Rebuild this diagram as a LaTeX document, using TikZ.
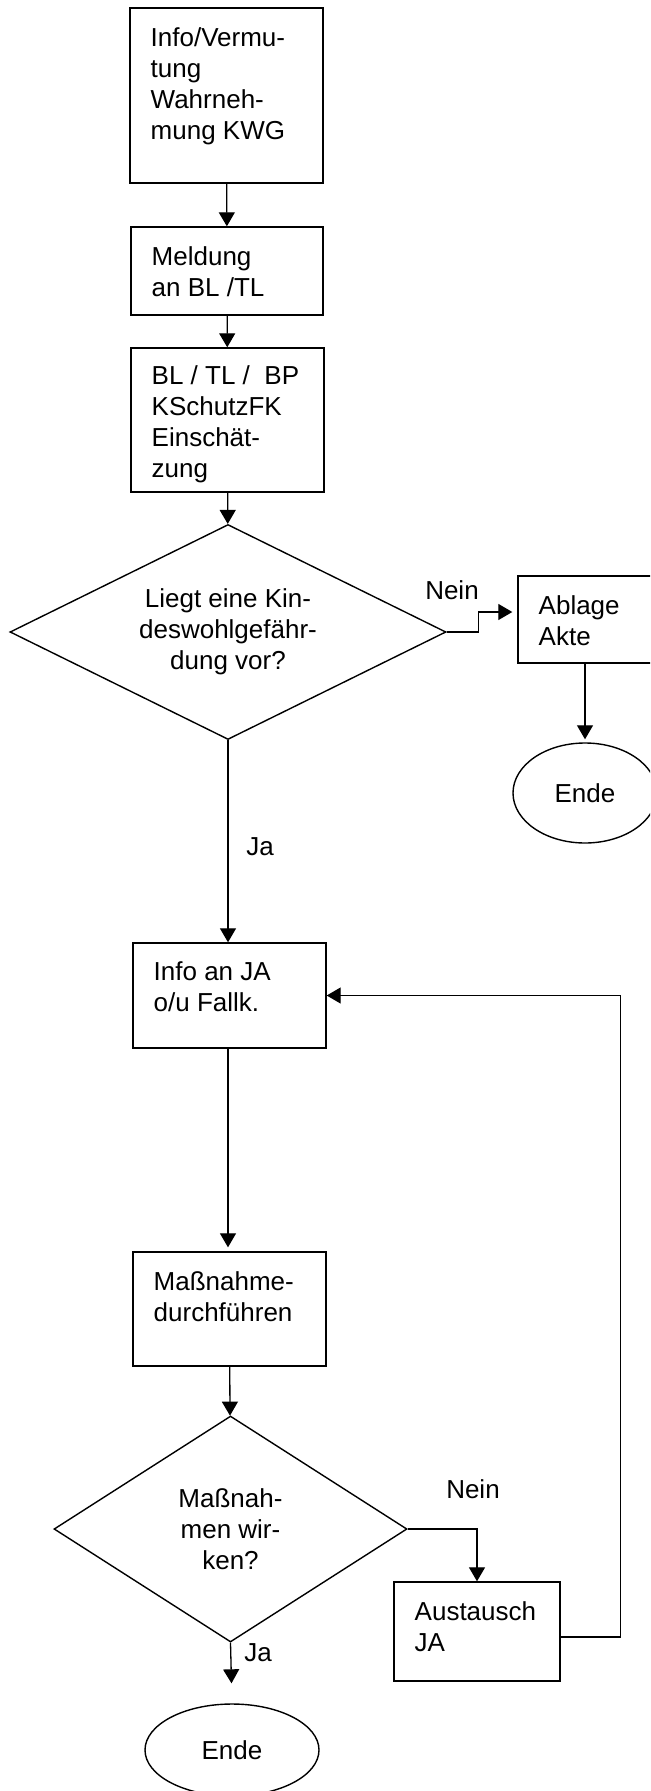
\documentclass[tikz,border=0pt]{standalone}
\usepackage{fontspec}
\setmainfont{Liberation Sans}
\usetikzlibrary{shapes.geometric}
\usetikzlibrary{positioning, arrows.meta}

\begin{document}
\begin{tikzpicture}[x=0.5pt, y=-0.5pt,
        every node/.style={font=\fontsize{13}{15.5}\selectfont},
        arr/.style={-{Triangle[length=7pt, width=8pt]}, line width=0.65pt}]
        % Define styles for shapes
        \tikzstyle{stepbox} = [draw, line width=0.7pt, inner sep=0pt, minimum width=96.5pt]
        \tikzstyle{boxtext} = [inner sep=0pt, align=left, anchor=north west]
        \tikzstyle{decision} = [draw, diamond, line width=0.7pt, inner sep=0pt, align=center]
        \tikzstyle{terminal} = [draw, ellipse, line width=0.7pt, inner sep=0pt]
        \clip (0,0) rectangle (650,1791);
        % Draw shapes
        \node[stepbox, minimum height=87.5pt] (info) at (226.5, 95.5) {};
        \node[boxtext, below right=10pt and 10.5pt of info.north west] (infotext) {Info/Vermu-\\tung\\Wahrneh-\\mung KWG};
        \node[stepbox, minimum width=96pt, minimum height=44pt] (meldung) at (227, 271) {};
        \node[boxtext, below right=10pt and 10.5pt of meldung.north west] (meldungtext) {Meldung\\an BL /TL};
        \node[stepbox, minimum height=72pt] (einsch) at (227.5, 420) {};
        \node[boxtext, below right=9pt and 10.5pt of einsch.north west] (einschtext) {BL / TL /~ BP\\KSchutzFK\\Einschät-\\zung};
        \node[decision, aspect=2, minimum width=218pt, minimum height=107.5pt] (kwg) at (228, 632) {Liegt eine Kin-\\deswohlgefähr-\\dung vor?};
        \node[stepbox, minimum width=81pt, minimum height=43.5pt] (ablage) at (599, 619.5) {};
        \node[boxtext, below right=10pt and 10.5pt of ablage.north west] (ablagetext) {Ablage\\Akte};
        \node[terminal, minimum width=72pt, minimum height=50pt] (ende1) at (585, 793) {Ende};
        \node[stepbox, minimum height=52.5pt] (infoja) at (229.5, 995.5) {};
        \node[boxtext, below right=9.5pt and 10.5pt of infoja.north west] (infojatext) {Info an JA\\o/u Fallk.};
        \node[stepbox, minimum height=57pt] (massn) at (229.5, 1309) {};
        \node[boxtext, below right=10pt and 10.5pt of massn.north west] (massntext) {Maßnahme-\\durchführen};
        \node[decision, aspect=1.56, minimum width=176.5pt, minimum height=113pt] (wirken) at (230.5, 1529) {Maßnah-\\men wir-\\ken?};
        \node[stepbox, minimum width=83pt, minimum height=49.5pt] (austausch) at (477, 1631.5) {};
        \node[boxtext, below right=10pt and 10.5pt of austausch.north west] (austauschtext) {Austausch\\JA};
        \node[terminal, minimum width=87pt, minimum height=46pt] (ende2) at (232, 1750) {Ende};
        % Labels
        \node (nein1) at (452, 590) {Nein};
        \node (ja1) at (260, 847) {Ja};
        \node (nein2) at (473, 1489) {Nein};
        \node (ja2) at (258, 1653) {Ja};

        % Draw arrows
        \draw[arr] (info) -- (meldung);
        \draw[arr] (meldung) -- (einsch);
        \draw[arr] (einsch) -- (kwg);
        \draw[arr, shorten >=2.5pt] (kwg.east) -- ++(32,0) |- ([yshift=3.75pt]ablage.west);
        \draw[arr, shorten >=1.5pt] (ablage.south -| ende1.north) -- (ende1.north);
        \draw[arr] (kwg.south) -- (infoja.north -| kwg.south);
        \draw[arr, shorten >=2pt] (infoja.south -| kwg.south) -- (massn.north -| kwg.south);
        \draw[arr] (massn) -- (wirken);
        \draw[arr] (wirken.east) -| (austausch.north);
        \draw[arr] ([yshift=-2.75pt]austausch.east) -- ++(60,0) |- (infoja.east);
        \draw[arr, shorten >=10pt] (wirken.south) -- (ende2.north);
    \end{tikzpicture}
\end{document}
